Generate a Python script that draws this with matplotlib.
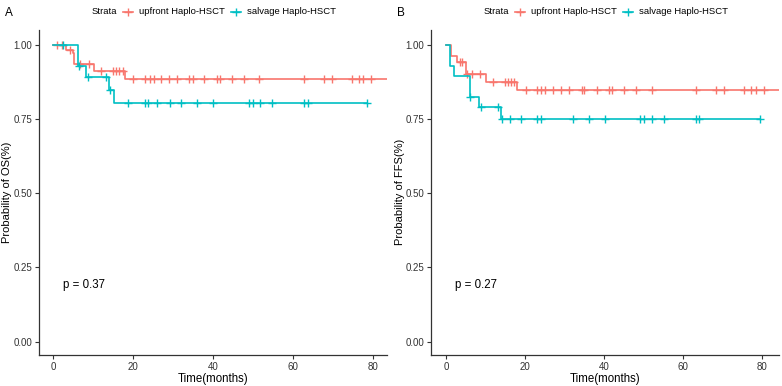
import numpy as np
import matplotlib
matplotlib.use("Agg")
import matplotlib.pyplot as plt
from matplotlib.lines import Line2D

plt.rcParams['font.family'] = ['Liberation Sans', 'DejaVu Sans']

RED = '#F8766D'
CYAN = '#00BFC4'

legend_title = "Strata"
group_names = ["upfront Haplo-HSCT", "salvage Haplo-HSCT"]

# Panel A: overall survival
os_up_times = [0, 3.1, 4.9, 5.2, 10.2, 18.0]
os_up_surv = [1.0, 0.981, 0.972, 0.936, 0.913, 0.885]
os_up_censor = [1.0, 2.1, 4.2, 6.7, 9.0, 11.9, 14.9, 15.7, 16.5, 17.4, 20.0, 23.0, 24.1,
                25.1, 26.9, 29.0, 30.9, 34.1, 34.9, 37.8, 40.9, 41.8, 44.7, 47.8, 51.6,
                62.7, 67.7, 69.8, 74.8, 76.7, 77.7, 79.6]
os_up_end = 86

os_sv_times = [0, 6.2, 8.2, 14.0, 15.2]
os_sv_surv = [1.0, 0.929, 0.890, 0.848, 0.803]
os_sv_censor = [2.3, 6.3, 8.8, 13.2, 14.3, 18.8, 23.0, 23.8, 25.9, 29.1, 32.0, 35.9,
                39.9, 48.9, 49.9, 51.8, 54.9, 62.7, 63.7, 78.7]
os_sv_end = 78.7

# Panel B: failure-free survival
ffs_up_times = [0, 1.3, 2.8, 5.0, 10.1, 18.0]
ffs_up_surv = [1.0, 0.961, 0.941, 0.901, 0.876, 0.848]
ffs_up_censor = [3.5, 4.1, 5.3, 6.6, 8.7, 11.9, 14.8, 15.6, 16.5, 17.3, 20.1, 23.0, 23.9,
                 25.0, 27.0, 29.1, 31.2, 34.4, 35.0, 38.2, 41.2, 42.0, 45.0, 48.1, 52.0,
                 63.1, 68.2, 70.3, 75.3, 77.2, 78.3, 80.3]
ffs_up_end = 86

ffs_sv_times = [0, 0.9, 2.1, 6.0, 8.3, 14.0]
ffs_sv_surv = [1.0, 0.930, 0.895, 0.825, 0.791, 0.749]
ffs_sv_censor = [6.1, 8.9, 13.1, 14.1, 16.3, 19.0, 23.0, 23.9, 32.1, 36.1, 40.1, 49.0,
                 50.0, 52.2, 55.1, 63.1, 63.9, 79.3]
ffs_sv_end = 79.3

x_ticks = [0, 20, 40, 60, 80]
y_ticks = [0.0, 0.25, 0.5, 0.75, 1.0]
y_ticklabels = ["0.00", "0.25", "0.50", "0.75", "1.00"]

panels = [
    dict(letter="A", ylabel="Probability of OS(%)", p="p = 0.37",
         groups=[(os_up_times, os_up_surv, os_up_censor, os_up_end, RED),
                 (os_sv_times, os_sv_surv, os_sv_censor, os_sv_end, CYAN)],
         left_px=39, xlim=(-3.6, 83.6)),
    dict(letter="B", ylabel="Probability of FFS(%)", p="p = 0.27",
         groups=[(ffs_up_times, ffs_up_surv, ffs_up_censor, ffs_up_end, RED),
                 (ffs_sv_times, ffs_sv_surv, ffs_sv_censor, ffs_sv_end, CYAN)],
         left_px=431, xlim=(-3.8, 84.2)),
]

W, H = 782, 386
fig = plt.figure(figsize=(W / 100, H / 100), dpi=100)

top_px, bot_px, width_px = 30, 355, 348

for i, pnl in enumerate(panels):
    off = 392 * i
    ax = fig.add_axes([pnl['left_px'] / W, (H - bot_px) / H, width_px / W, (bot_px - top_px) / H])
    for times, surv, cens, end, col in pnl['groups']:
        xs = list(times) + [end]
        ys = list(surv) + [surv[-1]]
        ax.step(xs, ys, where='post', color=col, lw=1.2, clip_on=True)
        idx = np.searchsorted(np.array(times), np.array(cens), side='right') - 1
        cy = np.array(surv)[idx]
        ax.plot(cens, cy, linestyle='none', marker='+', color=col, ms=6, mew=1.0)
    ax.set_xlim(*pnl['xlim'])
    ax.set_ylim(-0.045, 1.05)
    ax.set_xticks(x_ticks)
    ax.set_yticks(y_ticks)
    ax.set_yticklabels(y_ticklabels)
    for s in ['top', 'right']:
        ax.spines[s].set_visible(False)
    for s in ['left', 'bottom']:
        ax.spines[s].set_linewidth(0.9)
        ax.spines[s].set_color('#333333')
    ax.tick_params(length=3, width=0.8, color='#333333', labelsize=7.0, labelcolor='#333333', pad=2)
    ax.set_xlabel("Time(months)", fontsize=8.3, labelpad=1)
    ax.text(2.3, 0.19, pnl['p'], fontsize=8.3, ha='left', va='center')
    fig.text((7.5 + off) / W, 1 - 192 / H, pnl['ylabel'], rotation=90, ha='center', va='center', fontsize=8.0)
    fig.text((5 + off) / W, 1 - 13 / H, pnl['letter'], ha='left', va='center', fontsize=8.5)

    # legend
    ly = 1 - 12 / H
    fig.text((92 + off) / W, ly, legend_title, ha='left', va='center', fontsize=6.8)
    for (xm, xt, name, col) in [(128, 139, group_names[0], RED), (236, 247, group_names[1], CYAN)]:
        fig.add_artist(Line2D([(xm - 5 + off) / W, (xm + 5 + off) / W], [ly, ly], color=col, lw=1.2,
                              transform=fig.transFigure))
        fig.add_artist(Line2D([(xm + off) / W], [ly], color=col, marker='+', ms=6, mew=1.0,
                              linestyle='none', transform=fig.transFigure))
        fig.text((xt + off) / W, ly, name, ha='left', va='center', fontsize=6.8)

fig.savefig("out.png", dpi=100)
